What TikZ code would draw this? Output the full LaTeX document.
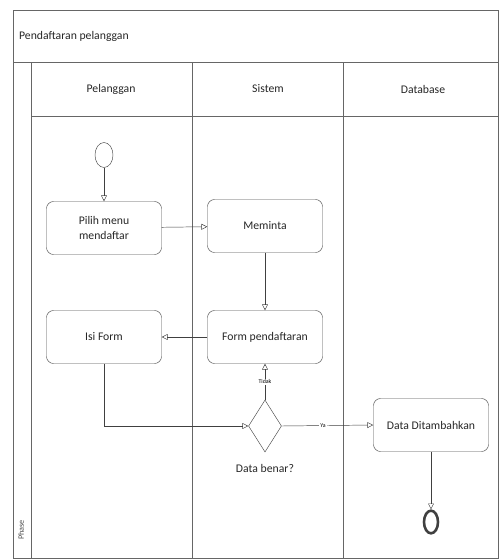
\documentclass[tikz,border=0pt]{standalone}
\usepackage{fontspec}
\setmainfont{Carlito}
\usetikzlibrary{shapes.geometric,arrows.meta}

\tikzset{
  lane/.style={draw=black!60, line width=0.6pt},
  act/.style={draw=black!70, rounded corners=6pt, minimum width=3.45cm, minimum height=1.59cm, align=center, text=black!85},
  flow/.style={draw=black!75, -{Triangle[open,length=5pt,width=5pt]}},
  guard/.style={fill=white, inner sep=1pt, font=\fontsize{5}{5}\selectfont}
}

\begin{document}
\begin{tikzpicture}[x=0.03cm,y=-0.03cm]
            \useasboundingbox (0,0) rectangle (500,559);

            % Pool and lanes
            \draw[lane] (13,10) rectangle (498,558);
            \draw[lane] (13,62) -- (498,62);
            \draw[lane] (31,62) -- (31,558);
            \draw[lane] (31,116) -- (498,116);
            \draw[lane] (192,62) -- (192,558);
            \draw[lane] (343,62) -- (343,558);

            \node[anchor=west, text=black!85] (judul) at (15,36) {Pendaftaran pelanggan};
            \node[text=black!85] (lpelanggan) at (111,89) {Pelanggan};
            \node[text=black!85] (lsistem) at (268,89) {Sistem};
            \node[text=black!85] (ldatabase) at (423,89) {Database};
            \node[rotate=90, font=\scriptsize, text=black!70] (fase) at (21,530) {Phase};

            % Pelanggan
            \node[draw=black!70, ellipse, minimum width=0.54cm, minimum height=0.75cm, inner sep=0] (mulai) at (104,155) {};
            \node[act] (pilih) at (104,228) {Pilih menu\\mendaftar};
            \node[act] (isi) at (104,337) {Isi Form};

            % Sistem
            \node[act] (minta) at (265,226) {Meminta};
            \node[act] (form) at (265,337) {Form pendaftaran};
            \node[draw=black!70, diamond, minimum width=0.99cm, minimum height=1.56cm, inner sep=0] (cek) at (265,426) {};
            \node[text=black!85] (lcek) at (265,468) {Data benar?};

            % Database
            \node[act] (tambah) at (431,425) {Data Ditambahkan};
            \node[draw=black!75, line width=2.2pt, ellipse, minimum width=0.42cm, minimum height=0.68cm, inner sep=0] (selesai) at (431,522) {};

            % Alur
            \draw[flow] (mulai) -- (pilih);
            \draw[flow] (pilih) -- (minta);
            \draw[flow] (minta) -- (form);
            \draw[flow] (form) -- (isi);
            \draw[flow] (isi.south) |- (cek.west);
            \draw[flow] (cek.north) -- node[guard] {Tidak} (form.south);
            \draw[flow] (cek.east) -- node[guard, pos=0.45] {Ya} (tambah.west);
            \draw[flow] (tambah) -- (selesai);

\end{tikzpicture}
\end{document}
